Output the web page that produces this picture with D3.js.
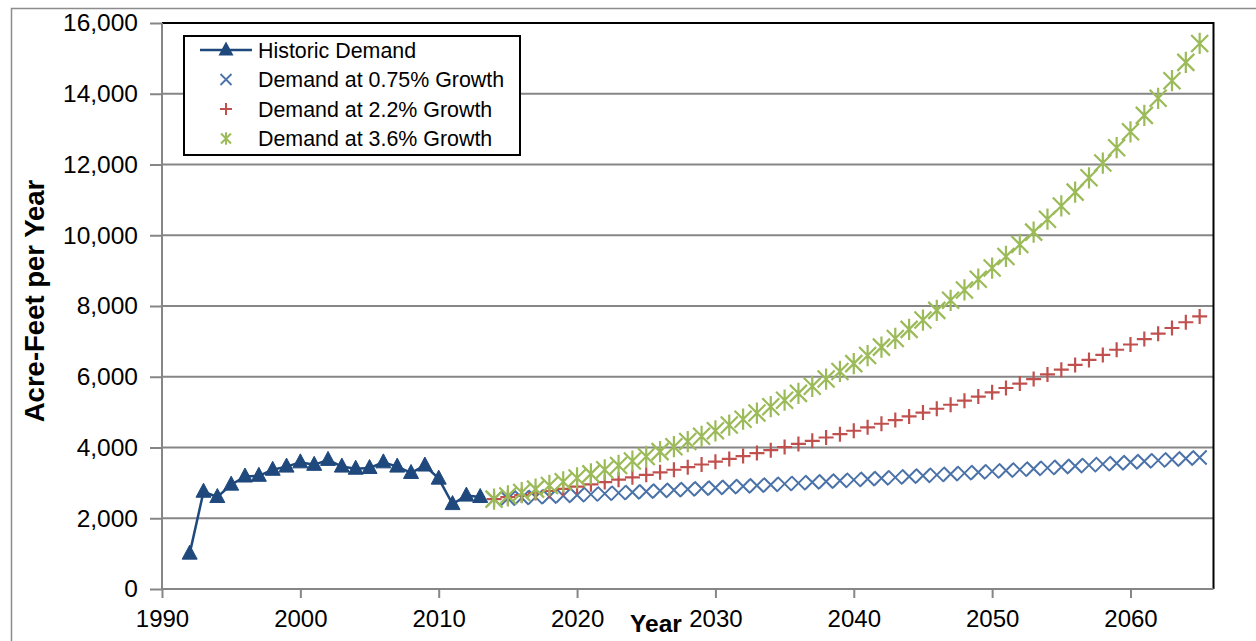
<!DOCTYPE html>
<html>
<head>
<meta charset="utf-8">
<script src="https://cdn.jsdelivr.net/npm/d3@7"></script>
<style>
  html, body { margin: 0; padding: 0; background: #fff; }
  svg { display: block; font-family: "Liberation Sans", Arial, sans-serif; }
</style>
</head>
<body>
<svg id="chart" width="1256" height="641"></svg>
<script>
// Historic demand, 1992-2013 (acre-feet per year)
const historicYears = d3.range(1992, 2014);
const historicDemand = [1000, 2750, 2600, 2950, 3180, 3200, 3370, 3460, 3580, 3510,
  3650, 3460, 3400, 3420, 3580, 3460, 3280, 3490, 3120, 2400, 2640, 2600];

// Projected demand, 2014-2065
const projectionYears = d3.range(2014, 2066);
const demand075 = [2540, 2559, 2578, 2598, 2617, 2637, 2656, 2676, 2696, 2717,
  2737, 2758, 2778, 2799, 2820, 2841, 2863, 2884, 2906, 2927,
  2949, 2972, 2994, 3016, 3039, 3062, 3085, 3108, 3131, 3155,
  3178, 3202, 3226, 3250, 3275, 3299, 3324, 3349, 3374, 3399,
  3425, 3450, 3476, 3502, 3529, 3555, 3582, 3609, 3636, 3663,
  3691, 3718];
const demand22 = [2540, 2596, 2653, 2711, 2771, 2832, 2894, 2958, 3023, 3090,
  3158, 3227, 3298, 3371, 3445, 3520, 3598, 3677, 3758, 3841,
  3925, 4011, 4100, 4190, 4282, 4376, 4473, 4571, 4672, 4774,
  4879, 4987, 5096, 5209, 5323, 5440, 5560, 5682, 5807, 5935,
  6066, 6199, 6335, 6475, 6617, 6763, 6912, 7064, 7219, 7378,
  7540, 7706];
const demand36 = [2540, 2631, 2726, 2824, 2926, 3031, 3140, 3254, 3371, 3492,
  3618, 3748, 3883, 4023, 4167, 4317, 4473, 4634, 4801, 4974,
  5153, 5338, 5530, 5729, 5936, 6149, 6371, 6600, 6838, 7084,
  7339, 7603, 7877, 8160, 8454, 8758, 9074, 9400, 9739, 10089,
  10453, 10829, 11219, 11623, 12041, 12474, 12924, 13389, 13871, 14370,
  14887, 15423];

const xTicks = [1990, 2000, 2010, 2020, 2030, 2040, 2050, 2060];
const yTicks = [0, 2000, 4000, 6000, 8000, 10000, 12000, 14000, 16000];
const legendLabels = ["Historic Demand", "Demand at 0.75% Growth",
  "Demand at 2.2% Growth", "Demand at 3.6% Growth"];

const colors = { hist: "#1F497D", low: "#4A72A8", mid: "#C0504D", high: "#9BBB59" };
const gridColor = "#868686";

const svg = d3.select("#chart");

// Chart area frame
svg.append("rect")
  .attr("x", 11.5).attr("y", 8.5).attr("width", 1300).attr("height", 700)
  .attr("fill", "none").attr("stroke", "#8c8c8c").attr("stroke-width", 1.5);

const x = d3.scaleLinear().domain([1990, 2066]).range([162, 1213.5]);
const y = d3.scaleLinear().domain([0, 16000]).range([589, 23]);

// Gridlines
svg.append("g")
  .selectAll("line").data(yTicks.filter(d => d > 0 && d < 16000)).join("line")
  .attr("x1", x(1990)).attr("x2", x(2066))
  .attr("y1", d => y(d)).attr("y2", d => y(d))
  .attr("stroke", gridColor).attr("stroke-width", 2);

// Plot area border (top and right)
svg.append("path")
  .attr("d", `M${x(1990)},${y(16000)}H${x(2066)}V${y(0)}`)
  .attr("fill", "none").attr("stroke", "#000").attr("stroke-width", 2);

// Y axis
const yAxis = d3.axisLeft(y).tickValues(yTicks).tickSize(12).tickPadding(12)
  .tickFormat(d3.format(","));
const gy = svg.append("g").attr("transform", `translate(${x(1990)},0)`).call(yAxis);
gy.select(".domain").attr("stroke", gridColor).attr("stroke-width", 2)
  .attr("d", `M0,${y(16000)}V${y(0)}`);
gy.selectAll(".tick line").attr("stroke", gridColor).attr("stroke-width", 2);
gy.selectAll(".tick text").attr("font-size", 24.5).attr("fill", "#000")
  .attr("font-family", "'Liberation Sans', Arial, sans-serif");

// X axis
const xAxis = d3.axisBottom(x).tickValues(xTicks).tickSize(9).tickPadding(12)
  .tickFormat(d3.format("d"));
const gx = svg.append("g").attr("transform", `translate(0,${y(0)})`).call(xAxis);
gx.select(".domain").attr("stroke", gridColor).attr("stroke-width", 2)
  .attr("d", `M${x(1990)},0H${x(2066)}`);
gx.selectAll(".tick line").attr("stroke", gridColor).attr("stroke-width", 2);
gx.selectAll(".tick text").attr("font-size", 24).attr("fill", "#000")
  .attr("font-family", "'Liberation Sans', Arial, sans-serif");

// Axis titles
svg.append("text")
  .attr("transform", "translate(44,301) rotate(-90)")
  .attr("text-anchor", "middle")
  .attr("font-size", 27.5).attr("font-weight", "bold")
  .text("Acre-Feet per Year");
svg.append("text")
  .attr("x", 656).attr("y", 632)
  .attr("text-anchor", "middle")
  .attr("font-size", 24.5).attr("font-weight", "bold")
  .text("Year");

// Marker shapes
const triPath = "M0,-8.5L7.5,5.5H-7.5Z";
const crossPath = s => `M${-s},${-s}L${s},${s}M${-s},${s}L${s},${-s}`;
const plusPath = s => `M${-s},0H${s}M0,${-s}V${s}`;
const starPath = s => `M${-s},${-s}L${s},${s}M${-s},${s}L${s},${-s}M0,${-s * 1.25}V${s * 1.25}`;

function drawMarkers(years, values, path, color, width) {
  svg.append("g")
    .selectAll("path").data(years.map((yr, i) => [yr, values[i]])).join("path")
    .attr("transform", d => `translate(${x(d[0])},${y(d[1])})`)
    .attr("d", path)
    .attr("fill", "none").attr("stroke", color).attr("stroke-width", width);
}

// Projections
drawMarkers(projectionYears, demand075, crossPath(7), colors.low, 2);
drawMarkers(projectionYears, demand22, plusPath(7.5), colors.mid, 2.2);
drawMarkers(projectionYears, demand36, starPath(8.5), colors.high, 2.2);

// Historic demand line with triangle markers
const histData = historicYears.map((yr, i) => [yr, historicDemand[i]]);
svg.append("path")
  .datum(histData)
  .attr("d", d3.line().x(d => x(d[0])).y(d => y(d[1])))
  .attr("fill", "none").attr("stroke", colors.hist).attr("stroke-width", 2.5);
svg.append("g")
  .selectAll("path").data(histData).join("path")
  .attr("transform", d => `translate(${x(d[0])},${y(d[1])})`)
  .attr("d", triPath)
  .attr("fill", colors.hist).attr("stroke", colors.hist).attr("stroke-width", 1);

// Legend
const legend = svg.append("g");
legend.append("rect")
  .attr("x", 184).attr("y", 36).attr("width", 336).attr("height", 119)
  .attr("fill", "#fff").attr("stroke", "#000").attr("stroke-width", 2);
const rowY = i => 50 + i * 29.5;
const lx = 226;
legend.append("line")
  .attr("x1", 200).attr("x2", 252).attr("y1", rowY(0)).attr("y2", rowY(0))
  .attr("stroke", colors.hist).attr("stroke-width", 2.5);
legend.append("path").attr("transform", `translate(${lx},${rowY(0)})`)
  .attr("d", triPath).attr("fill", colors.hist);
legend.append("path").attr("transform", `translate(${lx},${rowY(1)})`)
  .attr("d", crossPath(5.5)).attr("fill", "none").attr("stroke", colors.low).attr("stroke-width", 1.8);
legend.append("path").attr("transform", `translate(${lx},${rowY(2)})`)
  .attr("d", plusPath(6)).attr("fill", "none").attr("stroke", colors.mid).attr("stroke-width", 2);
legend.append("path").attr("transform", `translate(${lx},${rowY(3)})`)
  .attr("d", starPath(5)).attr("fill", "none").attr("stroke", colors.high).attr("stroke-width", 2);
legend.selectAll("text.lbl").data(legendLabels).join("text")
  .attr("class", "lbl")
  .attr("x", 258).attr("y", (d, i) => rowY(i))
  .attr("dy", "0.36em")
  .attr("font-size", 21.4)
  .text(d => d);
</script>
</body>
</html>
